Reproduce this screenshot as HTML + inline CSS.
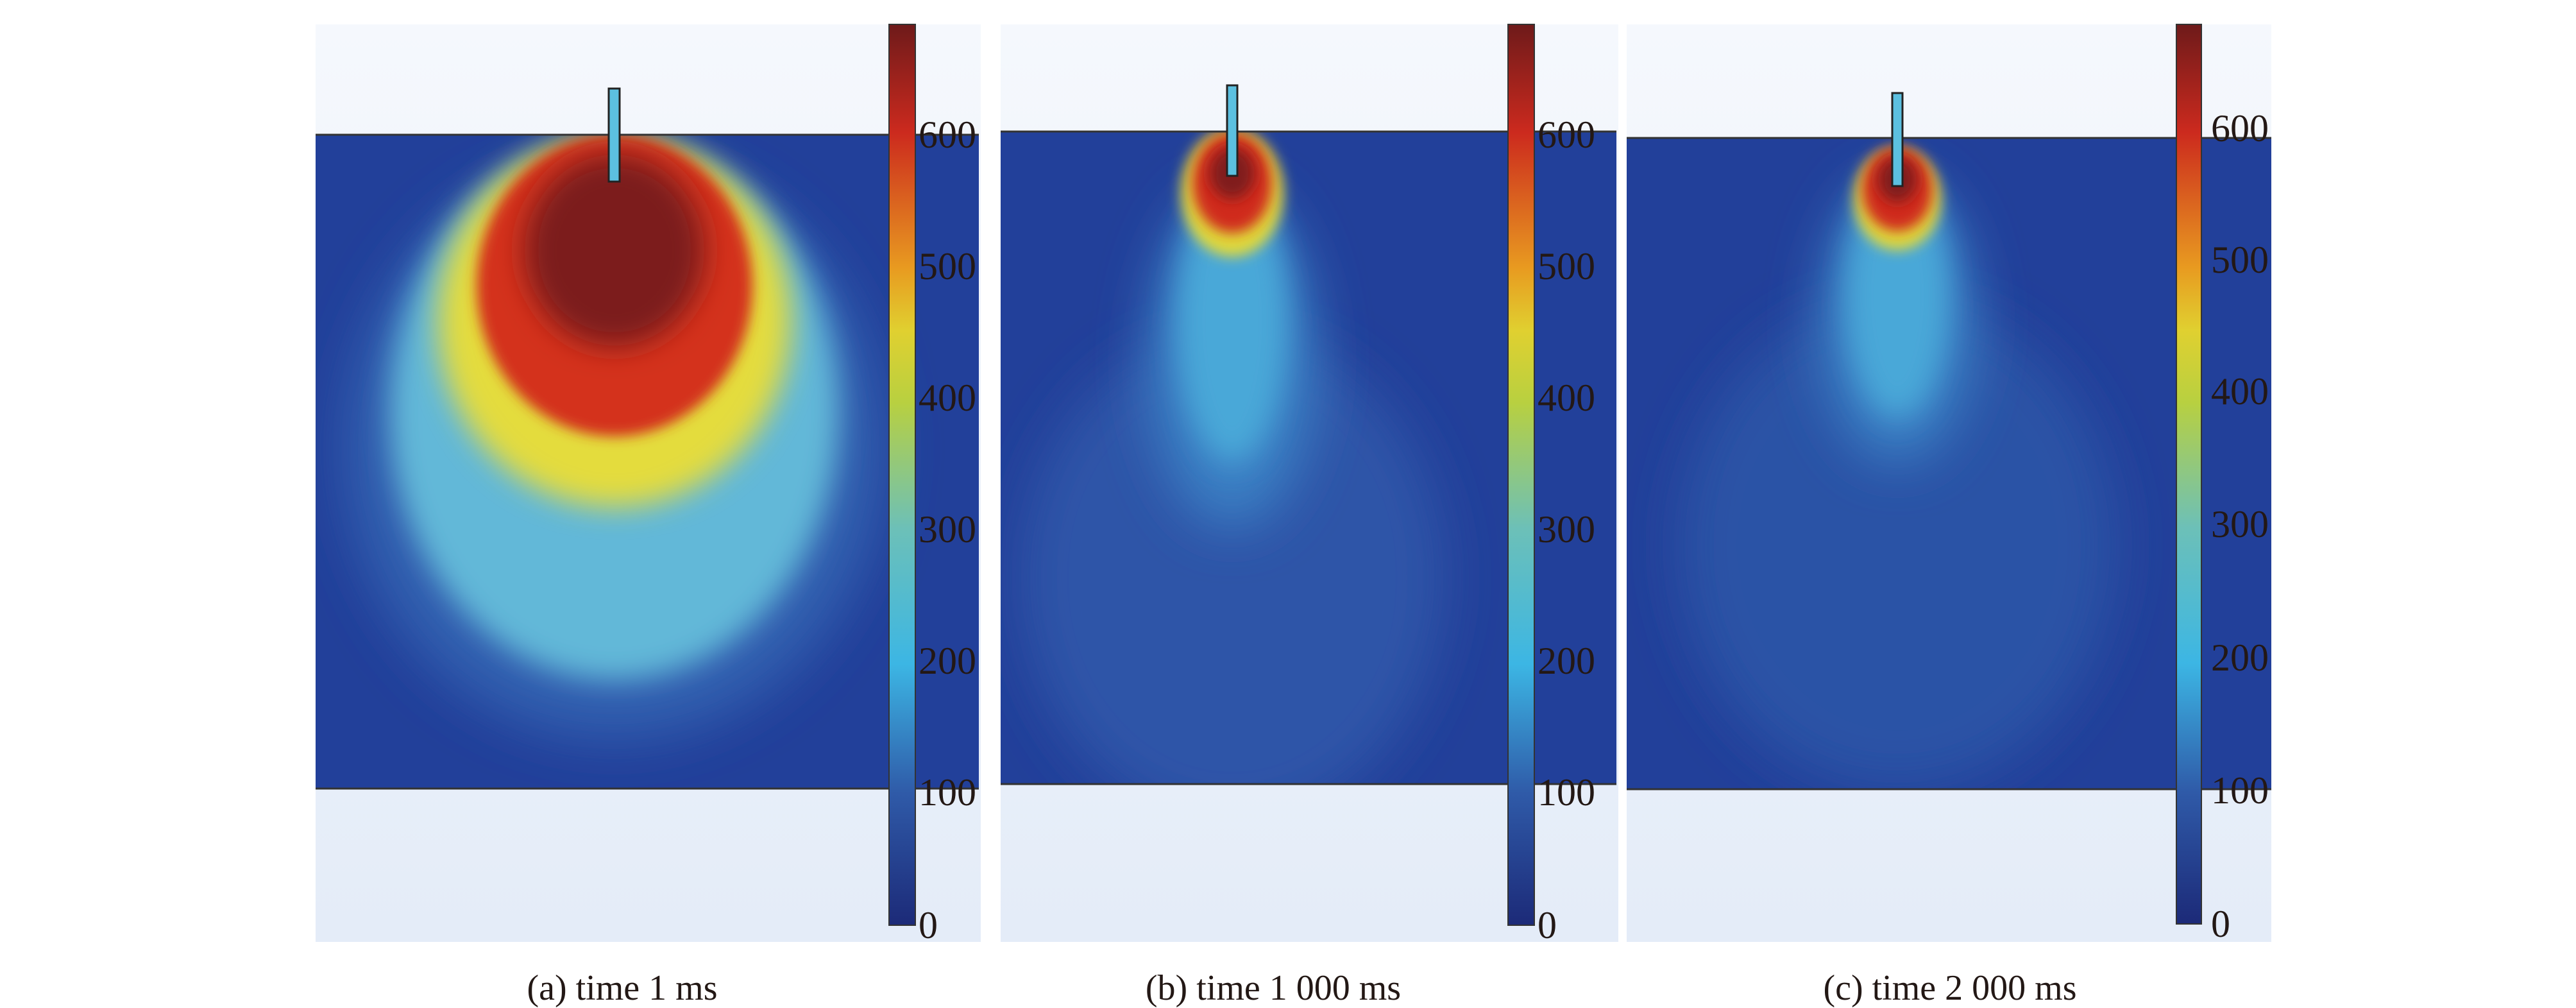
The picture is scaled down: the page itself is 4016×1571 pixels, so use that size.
<!DOCTYPE html>
<html><head><meta charset="utf-8"><style>
html,body{margin:0;padding:0;background:#fff;}
svg{display:block;}
text{font-family:"Liberation Serif",serif;fill:#231815;}
</style></head><body>
<svg width="4016" height="1571" viewBox="0 0 4016 1571" xmlns="http://www.w3.org/2000/svg">
<defs>
<linearGradient id="cb" x1="0" y1="1" x2="0" y2="0">
<stop offset="0" stop-color="#1c2a78"/>
<stop offset="0.146" stop-color="#2f5aa8"/>
<stop offset="0.29" stop-color="#3cb6e4"/>
<stop offset="0.44" stop-color="#6cc0b8"/>
<stop offset="0.58" stop-color="#b8d040"/>
<stop offset="0.66" stop-color="#e0d030"/>
<stop offset="0.73" stop-color="#e89a20"/>
<stop offset="0.88" stop-color="#cc2a1e"/>
<stop offset="1" stop-color="#6e1a1a"/>
</linearGradient>
<linearGradient id="bgg" x1="0" y1="0" x2="0" y2="1">
<stop offset="0" stop-color="#f5f8fd"/><stop offset="1" stop-color="#e4ecf8"/>
</linearGradient>
<filter id="b1" x="-50%" y="-50%" width="200%" height="200%"><feGaussianBlur stdDeviation="40"/></filter>
<filter id="b2" x="-50%" y="-50%" width="200%" height="200%"><feGaussianBlur stdDeviation="22"/></filter>
<filter id="b3" x="-50%" y="-50%" width="200%" height="200%"><feGaussianBlur stdDeviation="10"/></filter>
<clipPath id="ca"><rect x="492" y="210" width="1034" height="1019"/></clipPath>
<clipPath id="cbp"><rect x="1560" y="205" width="960" height="1017"/></clipPath>
<clipPath id="cc"><rect x="2536" y="215" width="1005" height="1015"/></clipPath>
</defs>
<rect width="4016" height="1571" fill="#fff"/>

<!-- Panel a -->
<rect x="492" y="38" width="1037" height="1430" fill="url(#bgg)"/>
<rect x="492" y="210" width="1034" height="1019" fill="#22409a"/>
<g clip-path="url(#ca)">
<ellipse cx="958" cy="700" rx="420" ry="450" fill="#3060b0" filter="url(#b1)"/>
<ellipse cx="958" cy="640" rx="350" ry="420" fill="#62b8d8" filter="url(#b2)"/>
<ellipse cx="958" cy="500" rx="275" ry="290" fill="#e4dc3c" filter="url(#b2)"/>
<ellipse cx="958" cy="445" rx="215" ry="235" fill="#d4301e" filter="url(#b3)"/>
<ellipse cx="958" cy="390" rx="140" ry="150" fill="#7c1a1c" filter="url(#b2)"/>
</g>
<line x1="492" y1="210" x2="1526" y2="210" stroke="#333" stroke-width="3"/>
<line x1="492" y1="1229" x2="1526" y2="1229" stroke="#333" stroke-width="3"/>
<rect x="949" y="138" width="17" height="145" fill="#5cc0e0" stroke="#222" stroke-width="3"/>
<rect x="1386" y="38" width="41" height="1404" fill="url(#cb)" stroke="#333" stroke-width="2"/>
<g font-size="60">
<text x="1432" y="230">600</text><text x="1432" y="435">500</text><text x="1432" y="640">400</text>
<text x="1432" y="845">300</text><text x="1432" y="1050">200</text><text x="1432" y="1255">100</text><text x="1432" y="1462">0</text>
</g>
<text x="970" y="1558" font-size="56" text-anchor="middle">(a) time 1 ms</text>

<!-- Panel b -->
<rect x="1560" y="38" width="963" height="1430" fill="url(#bgg)"/>
<rect x="1560" y="205" width="960" height="1017" fill="#22409a"/>
<g clip-path="url(#cbp)">
<ellipse cx="1921" cy="900" rx="330" ry="380" fill="#2d55a8" filter="url(#b1)"/>
<ellipse cx="1921" cy="560" rx="130" ry="260" fill="#3b80c4" filter="url(#b1)"/>
<ellipse cx="1921" cy="500" rx="85" ry="220" fill="#4aa8d8" filter="url(#b2)"/>
<ellipse cx="1921" cy="300" rx="80" ry="100" fill="#e0d83a" filter="url(#b3)"/>
<ellipse cx="1921" cy="285" rx="62" ry="78" fill="#d02a1e" filter="url(#b3)"/>
<ellipse cx="1921" cy="270" rx="35" ry="40" fill="#801a1c" filter="url(#b3)"/>
</g>
<line x1="1560" y1="205" x2="2520" y2="205" stroke="#333" stroke-width="3"/>
<line x1="1560" y1="1222" x2="2520" y2="1222" stroke="#333" stroke-width="3"/>
<rect x="1913" y="133" width="16" height="141" fill="#5cc0e0" stroke="#222" stroke-width="3"/>
<rect x="2351" y="38" width="41" height="1404" fill="url(#cb)" stroke="#333" stroke-width="2"/>
<g font-size="60">
<text x="2397" y="230">600</text><text x="2397" y="435">500</text><text x="2397" y="640">400</text>
<text x="2397" y="845">300</text><text x="2397" y="1050">200</text><text x="2397" y="1255">100</text><text x="2397" y="1462">0</text>
</g>
<text x="1985" y="1558" font-size="56" text-anchor="middle">(b) time 1 000 ms</text>

<!-- Panel c -->
<rect x="2536" y="38" width="1005" height="1430" fill="url(#bgg)"/>
<rect x="2536" y="215" width="1005" height="1015" fill="#22409a"/>
<g clip-path="url(#cc)">
<ellipse cx="2958" cy="850" rx="340" ry="380" fill="#2b52a6" filter="url(#b1)"/>
<ellipse cx="2958" cy="500" rx="120" ry="220" fill="#3b80c4" filter="url(#b1)"/>
<ellipse cx="2958" cy="460" rx="80" ry="190" fill="#4aa8d8" filter="url(#b2)"/>
<ellipse cx="2958" cy="310" rx="68" ry="80" fill="#e0d83a" filter="url(#b3)"/>
<ellipse cx="2958" cy="295" rx="55" ry="65" fill="#d02a1e" filter="url(#b3)"/>
<ellipse cx="2958" cy="280" rx="30" ry="35" fill="#801a1c" filter="url(#b3)"/>
</g>
<line x1="2536" y1="215" x2="3541" y2="215" stroke="#333" stroke-width="3"/>
<line x1="2536" y1="1230" x2="3541" y2="1230" stroke="#333" stroke-width="3"/>
<rect x="2950" y="145" width="16" height="145" fill="#5cc0e0" stroke="#222" stroke-width="3"/>
<rect x="3393" y="38" width="39" height="1402" fill="url(#cb)" stroke="#333" stroke-width="2"/>
<g font-size="60">
<text x="3447" y="220">600</text><text x="3447" y="425">500</text><text x="3447" y="630">400</text>
<text x="3447" y="837">300</text><text x="3447" y="1045">200</text><text x="3447" y="1252">100</text><text x="3447" y="1460">0</text>
</g>
<text x="3040" y="1558" font-size="56" text-anchor="middle">(c) time 2 000 ms</text>
</svg>
</body></html>
